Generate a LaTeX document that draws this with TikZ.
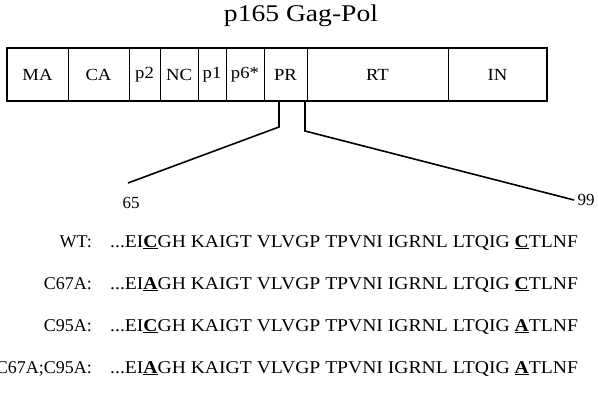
\documentclass[tikz,border=0pt]{standalone}
\usepackage{fontspec}
\setmainfont{Liberation Serif}
\usetikzlibrary{calc, positioning}

\newcommand{\mut}[1]{\underline{\textbf{#1}}}

\begin{document}
\begin{tikzpicture}[
x=1pt, y=-1pt,
seg/.style={
draw,
line width=0.9pt,
inner sep=0pt,
outer sep=0pt,
minimum height=53pt,
font=\fontsize{17}{20}\selectfont\addfontfeatures{FakeStretch=1.1}
},
zoomline/.style={line width=1.6pt},
tag/.style={anchor=base east, inner sep=0pt, font=\fontsize{18}{21}\selectfont},
seq/.style={anchor=base west, inner sep=0pt, font=\fontsize{18}{21}\selectfont\addfontfeatures{FakeStretch=1.09}},
num/.style={font=\fontsize{17}{20}\selectfont}
]
\useasboundingbox (0,0) rectangle (598,396);

% Title
\node[font=\fontsize{24}{28}\selectfont\addfontfeatures{FakeStretch=1.15}] (title) at (301,16) {p165 Gag-Pol};

% Domains of the polyprotein
\foreach \l/\r/\t/\n in {7/68/MA/ma, 68/129/CA/ca, 129/160/p2/ptwo, 160/198/NC/nc,
  198/226/p1/pone, 226/264/p6*/psix, 264/307/PR/pr, 307/448/RT/rt, 448/547/IN/int}
{
  \pgfmathsetmacro\w{\r-\l}
  \pgfmathsetmacro\c{(\l+\r)/2}
  \node[seg, minimum width=\w pt] (\n) at (\c,74.5) {\t};
}
\draw[line width=2pt] (ma.north west) rectangle (int.south east);

% Zoom on PR
\coordinate (kl) at (279,127);
\coordinate (kr) at (305,131);
\coordinate (el) at (128,183);
\node[num] (n65) at (131,203) {65};
\node[num, anchor=west] (n99) at (574,200) {99};

\draw[zoomline] (pr.south -| kl) -- (kl) -- (el);
\draw[zoomline] (pr.south -| kr) -- (kr) -- (n99.west);

% Sequences
\foreach \y/\tg/\a/\b [count=\i] in {247/WT/C/C, 289/C67A/A/C, 331/C95A/C/A, 373/C67A;C95A/A/A}
{
  \node[tag] (tag\i) at (92,\y) {\tg:};
  \node[seq] (seq\i) at (110,\y) {...EI\mut{\a}GH KAIGT VLVGP TPVNI IGRNL LTQIG \mut{\b}TLNF};
}

\end{tikzpicture}
\end{document}
